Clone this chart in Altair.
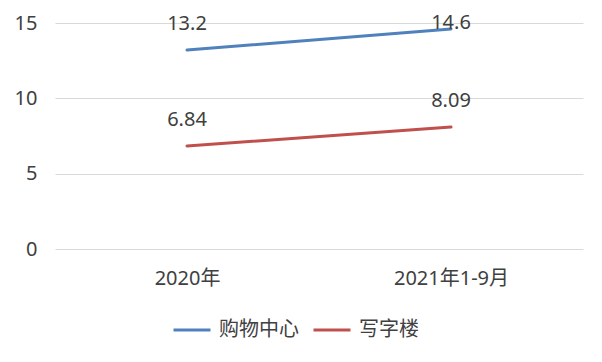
import altair as alt
import pandas as pd

categories = ["2020年", "2021年1-9月"]
series_names = ["购物中心", "写字楼"]
mall_values = [13.2, 14.6]
office_values = [6.84, 8.09]
colors = ["#4F81BD", "#C0504D"]

rows = []
for s, vals in zip(series_names, [mall_values, office_values]):
    for c, v in zip(categories, vals):
        rows.append({"cat": c, "series": s, "value": v, "label": f"{v:g}"})
df = pd.DataFrame(rows)

FONT = "Noto Sans, Noto Sans CJK SC, sans-serif"
TXT = "#404040"

x_enc = alt.X("cat:N", sort=categories, title=None,
              axis=alt.Axis(labelAngle=0, domain=False, ticks=False, grid=False,
                            labelPadding=19, labelFontSize=20, labelFont=FONT,
                            labelColor=TXT))

base = alt.Chart(df)

lines = base.mark_line(strokeWidth=3, strokeCap="round").encode(
    x=x_enc,
    y=alt.Y("value:Q", title=None,
            scale=alt.Scale(domain=[0, 15], nice=False, zero=True),
            axis=alt.Axis(values=[0, 5, 10, 15], domain=False, ticks=False,
                          grid=True, gridColor="#D9D9D9", gridWidth=1,
                          labelPadding=18, labelFontSize=20, labelFont=FONT,
                          labelColor=TXT)),
    color=alt.Color("series:N", sort=series_names,
                    scale=alt.Scale(domain=series_names, range=colors),
                    legend=alt.Legend(title=None, orient="none", direction="horizontal",
                                      legendX=117, legendY=287,
                                      symbolType="stroke", symbolSize=1369,
                                      symbolStrokeWidth=3, labelFontSize=20,
                                      labelFont=FONT, labelColor=TXT,
                                      labelOffset=7, columnPadding=8, padding=0)),
)

labels = base.transform_calculate(
    ly="min(datum.value + 1.73, 15.0)"
).mark_text(fontSize=20, font=FONT, color=TXT, baseline="middle", align="center").encode(
    x=alt.X("cat:N", sort=categories),
    y=alt.Y("ly:Q", scale=alt.Scale(domain=[0, 15], nice=False, zero=True)),
    text="label:N",
)

chart = alt.layer(lines, labels).properties(
    width=528, height=226,
    autosize=alt.AutoSizeParams(type="none"),
    padding={"left": 47, "top": 15, "right": 11, "bottom": 105},
).configure(background="white").configure_view(strokeWidth=0, stroke="transparent")

chart.save("out.html", embed_options={"renderer": "svg", "actions": False})
